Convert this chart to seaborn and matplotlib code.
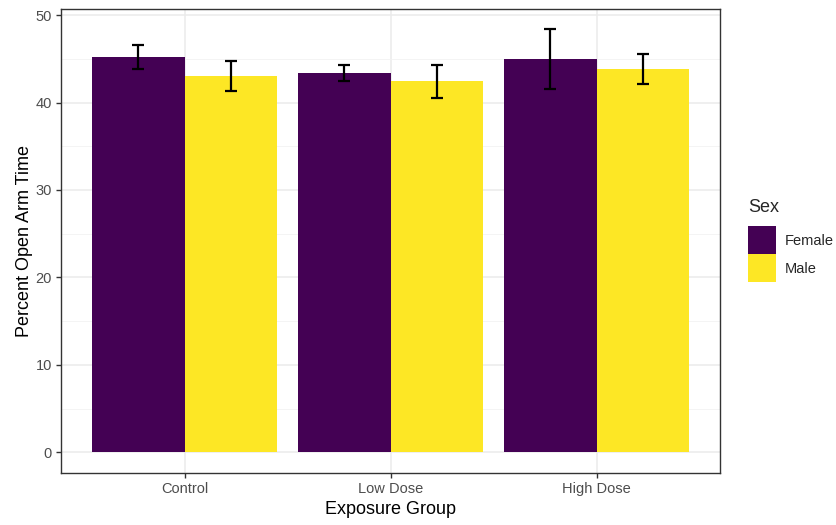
import matplotlib
matplotlib.use("Agg")
import matplotlib.pyplot as plt
from matplotlib.patches import Patch
from matplotlib.ticker import MultipleLocator
import seaborn as sns
import pandas as pd

groups = ["Control", "Low Dose", "High Dose"]
sexes = ["Female", "Male"]
female_mean = [45.2, 43.4, 45.0]
male_mean = [43.05, 42.45, 43.85]
female_se = [1.4, 0.9, 3.4]
male_se = [1.75, 1.9, 1.75]
palette = {"Female": "#440154", "Male": "#FDE725"}

df = pd.DataFrame({
    "group": groups * 2,
    "sex": ["Female"] * 3 + ["Male"] * 3,
    "pct": female_mean + male_mean,
    "se": female_se + male_se,
})

sns.set_theme(style="white")
plt.rcParams["font.family"] = ["Liberation Sans", "DejaVu Sans"]

fig = plt.figure(figsize=(8.37, 5.25), dpi=100)
ax = fig.add_axes([0.0729, 0.100, 0.7875, 0.8825])

sns.barplot(data=df, x="group", y="pct", hue="sex", order=groups,
            hue_order=sexes, palette=palette, errorbar=None, width=0.9,
            saturation=1, linewidth=0, ax=ax, legend=False, zorder=2)

# error bars centred on each bar
for container, sex in zip(ax.containers, sexes):
    sub = df[df["sex"] == sex].set_index("group").loc[groups]
    xs = [p.get_x() + p.get_width() / 2 for p in container.patches]
    ax.errorbar(xs, sub["pct"], yerr=sub["se"], fmt="none", ecolor="black",
                elinewidth=1.6, capsize=4, capthick=1.6, zorder=3)

ax.set_xlim(-0.6, 2.6)
ax.set_ylim(-2.32, 50.68)
ax.yaxis.set_major_locator(MultipleLocator(10))
ax.yaxis.set_minor_locator(MultipleLocator(5))
ax.grid(True, which="major", color="#EBEBEB", linewidth=1.1, zorder=0)
ax.grid(True, which="minor", axis="y", color="#F2F2F2", linewidth=0.6, zorder=0)
ax.set_axisbelow(True)

for s in ax.spines.values():
    s.set_color("#333333")
    s.set_linewidth(1.0)

ax.tick_params(axis="both", which="major", length=3.5, width=1, color="#333333",
               labelsize=10.5, labelcolor="#4D4D4D", pad=3, bottom=True, left=True)
ax.tick_params(axis="both", which="minor", length=0)

ax.set_xlabel("Exposure Group", fontsize=13, color="black", labelpad=4)
ax.set_ylabel("Percent Open Arm Time", fontsize=13, color="black", labelpad=2)

# legend: title as separate text, keys below with a small gap
fig.text(0.8937, 1 - 208 / 525, "Sex", fontsize=13, ha="left", va="center")
handles = [Patch(facecolor=palette[s], edgecolor="none") for s in sexes]
fig.legend(handles, sexes, loc="upper left",
           bbox_to_anchor=(0.8937, 1 - 226 / 525), frameon=False, fontsize=10.5,
           handlelength=1.92, handleheight=2.6, borderpad=0,
           handletextpad=0.62, labelspacing=0.0, borderaxespad=0)

fig.savefig("out.png", dpi=100)
